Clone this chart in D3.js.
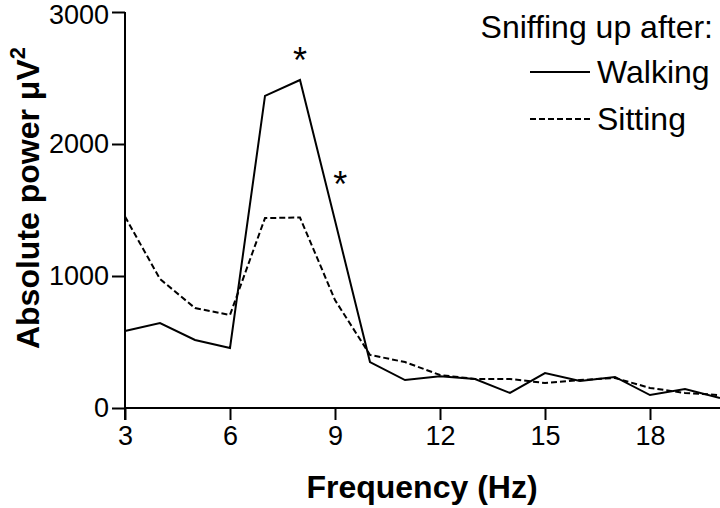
<!DOCTYPE html>
<html>
<head>
<meta charset="utf-8">
<script src="https://cdn.jsdelivr.net/npm/d3@7"></script>
<style>
  body { margin: 0; background: #fff; }
  svg { display: block; }
  text { font-family: "Liberation Sans", Arial, Helvetica, sans-serif; fill: #000; }
</style>
</head>
<body>
<svg id="chart" width="720" height="508"></svg>
<script>
const frequencies = [3,4,5,6,7,8,9,10,11,12,13,14,15,16,17,18,19,20];
const walking = [583,644,515,455,2364,2485,1420,348,212,240,220,114,265,205,235,98,144,76];
const sitting = [1450,977,757,705,1439,1443,818,402,348,250,220,220,189,212,227,152,114,98];
const xTicks = [3,6,9,12,15,18];
const yTicks = [0,1000,2000,3000];
const seriesNames = ["Walking", "Sitting"];
const legendTitle = "Sniffing up after:";
const stars = [{f: 8, v: 2540}, {f: 9.15, v: 1600}];

const svg = d3.select("#chart");
const x = d3.scaleLinear().domain([3, 20]).range([125, 720]);
const y = d3.scaleLinear().domain([0, 3000]).range([408, 12]);

// axes
const xAxis = svg.append("g").attr("transform", "translate(0,408)")
  .call(d3.axisBottom(x).tickValues(xTicks).tickFormat(d3.format("d")).tickSize(12).tickPadding(6).tickSizeOuter(0));
const yAxis = svg.append("g").attr("transform", "translate(125,0)")
  .call(d3.axisLeft(y).tickValues(yTicks).tickFormat(d3.format("d")).tickSize(13).tickPadding(3).tickSizeOuter(0));
[xAxis, yAxis].forEach(a => {
  a.selectAll("path, line").attr("stroke", "#000").attr("stroke-width", 2);
  a.selectAll("text").style("font-size", "27px").style("font-family", '"Liberation Sans", Arial, sans-serif').attr("fill", "#000");
});
yAxis.selectAll(".tick text").filter(d => d === 3000).attr("dy", "0.42em");
xAxis.select(".domain").attr("d", `M${x(3)},0H720`);
yAxis.select(".domain").attr("d", `M0,${y(3000)}V${y(0) + 12}`);

// lines
const line = d3.line().x((d, i) => x(frequencies[i])).y(d => y(d));
svg.append("path").datum(walking).attr("d", line)
  .attr("fill", "none").attr("stroke", "#000").attr("stroke-width", 2).attr("stroke-linejoin", "miter");
svg.append("path").datum(sitting).attr("d", line)
  .attr("fill", "none").attr("stroke", "#000").attr("stroke-width", 2).attr("stroke-dasharray", "6,3");

// stars
svg.selectAll(".star").data(stars).enter().append("text")
  .attr("x", d => x(d.f)).attr("y", d => y(d.v))
  .attr("text-anchor", "middle").style("font-size", "36px").text("*");

// axis titles
svg.append("text").attr("x", 422).attr("y", 498).attr("text-anchor", "middle")
  .style("font-size", "32px").style("font-weight", "bold").text("Frequency (Hz)");
const yt = svg.append("text").attr("transform", "translate(39,198) rotate(-90)")
  .attr("text-anchor", "middle").style("font-size", "32px").style("font-weight", "bold");
yt.append("tspan").text("Absolute power \u03BCV");
yt.append("tspan").attr("dy", -14).style("font-size", "22px").text("2");

// legend
svg.append("text").attr("x", 713).attr("y", 38).attr("text-anchor", "end")
  .style("font-size", "32px").text(legendTitle);
const leg = svg.append("g");
seriesNames.forEach((name, i) => {
  const ly = 72 + i * 47;
  leg.append("line").attr("x1", 530).attr("x2", 590).attr("y1", ly).attr("y2", ly)
    .attr("stroke", "#000").attr("stroke-width", 2)
    .attr("stroke-dasharray", i === 1 ? "6,3" : null);
  leg.append("text").attr("x", 597).attr("y", ly + 11).style("font-size", "32px").text(name);
});
</script>
</body>
</html>
